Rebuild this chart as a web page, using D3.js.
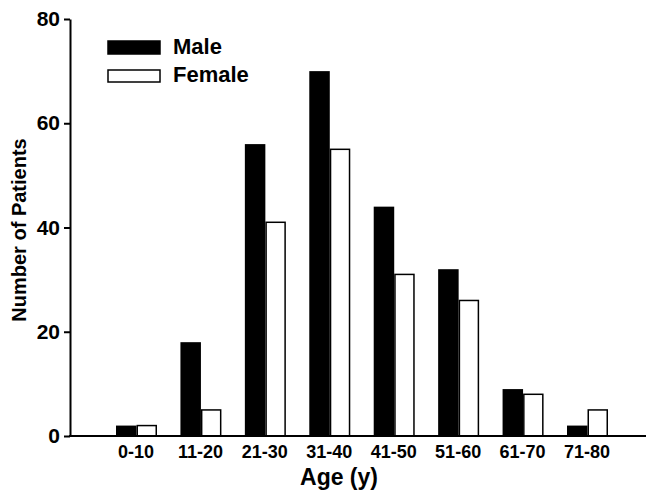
<!DOCTYPE html><html><head><script src="https://cdn.jsdelivr.net/npm/d3@7"></script>
<style>body{margin:0;background:#fff}text{font-family:"Liberation Sans",Arial,sans-serif;font-weight:bold}</style></head><body>
<svg id="c" width="649" height="493"></svg>
<script>
const categories=["0-10","11-20","21-30","31-40","41-50","51-60","61-70","71-80"];
const male=[2,18,56,70,44,32,9,2];
const female=[2,5,41,55,31,26,8,5];
const yTicks=[0,20,40,60,80];
const svg=d3.select("#c");
const x=d3.scaleLinear().domain([0,7]).range([116,567]);
const y=d3.scaleLinear().domain([0,80]).range([436,19]);
const bw=20.5,fw=19;
svg.selectAll(".m").data(male).join("rect").attr("x",(d,i)=>x(i)).attr("y",d=>y(d)).attr("width",bw).attr("height",d=>y(0)-y(d)).attr("fill","#000");
svg.selectAll(".f").data(female).join("rect").attr("x",(d,i)=>x(i)+bw+0.75).attr("y",d=>y(d)).attr("width",fw).attr("height",d=>y(0)-y(d)).attr("fill","#fff").attr("stroke","#000").attr("stroke-width",1.5);
const ya=svg.append("g").attr("transform","translate(70,0)").call(d3.axisLeft(y).tickValues(yTicks).tickSize(6).tickSizeOuter(0));
ya.attr("font-family",null);
ya.select(".domain").attr("stroke-width",2);ya.selectAll("line").attr("stroke-width",2);
ya.selectAll("text").style("font-size","21px").attr("dx",-1);
svg.append("line").attr("x1",69).attr("x2",646).attr("y1",y(0)).attr("y2",y(0)).attr("stroke","#000").attr("stroke-width",2);
svg.selectAll(".xl").data(categories).join("text").attr("x",(d,i)=>x(i)+20).attr("y",458).attr("text-anchor","middle").style("font-size","18px").text(d=>d);
svg.append("text").attr("x",339).attr("y",485).attr("text-anchor","middle").style("font-size","23px").text("Age (y)");
svg.append("text").attr("transform","translate(26,230) rotate(-90)").attr("text-anchor","middle").style("font-size","20px").text("Number of Patients");
const leg=[["Male","#000"],["Female","#fff"]];
leg.forEach((l,i)=>{svg.append("rect").attr("x",108).attr("y",41+i*29).attr("width",52).attr("height",i?12:13).attr("fill",l[1]).attr("stroke","#000").attr("stroke-width",1.5);
svg.append("text").attr("x",173).attr("y",54+i*28).style("font-size","22px").text(l[0]);});
</script></body></html>
